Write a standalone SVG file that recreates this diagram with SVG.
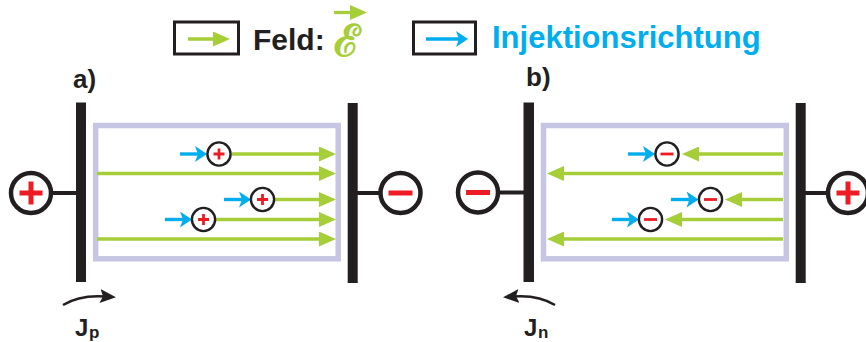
<svg xmlns="http://www.w3.org/2000/svg" width="866" height="342" viewBox="0 0 866 342">
<defs>
<style>
.bar{fill:#231f20}
.box{fill:none;stroke:#c7c6e2;stroke-width:5.5}
.fld{stroke:#a6ce39;stroke-width:3.3;fill:none;marker-end:url(#hg)}
.inj{stroke:#00aeef;stroke-width:3.4;fill:none;marker-end:url(#hb)}
.q{fill:#fff;stroke:#231f20;stroke-width:2.4}
.sg{stroke:#ed1c24;stroke-width:2.8;fill:none}
.T{fill:#fff;stroke:#231f20;stroke-width:4.5}
.tl{stroke:#231f20;stroke-width:4}
.bs{stroke:#ed1c24;stroke-width:5;fill:none}
.lab{font-family:"Liberation Sans",Arial,sans-serif;font-weight:bold;fill:#231f20}
.cur{fill:none;stroke:#231f20;stroke-width:2.5;marker-end:url(#hk)}
.lg{fill:none;stroke:#231f20;stroke-width:3}
</style>
<marker id="hg" markerUnits="userSpaceOnUse" viewBox="0 0 17 15" refX="9" refY="7.5" markerWidth="17" markerHeight="15" orient="auto"><path d="M0,0 L17,7.5 L0,15 Z" fill="#a6ce39"/></marker>
<marker id="hb" markerUnits="userSpaceOnUse" viewBox="0 0 12 16" refX="5" refY="8" markerWidth="12" markerHeight="16" orient="auto"><path d="M0,0 L12,8 L0,16 L3,8 Z" fill="#00aeef"/></marker>
<marker id="hk" markerUnits="userSpaceOnUse" viewBox="0 0 16 14" refX="6" refY="7" markerWidth="16" markerHeight="14" orient="auto"><path d="M0,0 L16,7 L0,14 L3,7 Z" fill="#231f20"/></marker>
</defs>
<rect width="866" height="342" fill="#fff"/>

<g id="legend">
<rect class="lg" x="174.5" y="22" width="64" height="32"/>
<path class="fld" d="M188,39 H222"/>
<text class="lab" x="253" y="50" font-size="30">Feld:</text>
<text x="334" y="56" font-size="44" font-family="DejaVu Serif,serif" font-weight="bold" fill="#a6ce39">ℰ</text>
<path class="fld" d="M334,12.5 H359"/>
<rect class="lg" x="413.5" y="22" width="62" height="32"/>
<path class="inj" d="M426,39 H461"/>
<text class="lab" x="492" y="48" font-size="31" style="fill:#00aeef">Injektionsrichtung</text>
</g>

<g id="panel-a">
<text class="lab" x="73" y="88" font-size="26">a)</text>
<rect class="box" x="95.7" y="125.5" width="242.5" height="133.3"/>
<rect class="bar" x="76" y="102.5" width="10" height="179.5"/>
<rect class="bar" x="347.7" y="103" width="10" height="180"/>
</g>
<g id="term-a-plus">
<line class="tl" x1="50" y1="193" x2="77" y2="193"/>
<circle class="T" cx="31" cy="193" r="20"/>
<path class="bs" d="M19.5,193 H42.5 M31,181.5 V204.5"/>
</g>
<g id="term-a-minus">
<line class="tl" x1="357" y1="193" x2="382" y2="193"/>
<circle class="T" cx="400.5" cy="193" r="20"/>
<path class="bs" d="M388.5,193 H412.5" stroke-width="5.5"/>
</g>

<g id="panel-b">
<text class="lab" x="526" y="86" font-size="26">b)</text>
<rect class="box" x="543.5" y="125.5" width="242.8" height="133.3"/>
<rect class="bar" x="523.5" y="102.5" width="10.5" height="179.5"/>
<rect class="bar" x="795.7" y="103" width="10" height="180"/>
</g>
<g id="term-b-minus">
<line class="tl" x1="496" y1="192.5" x2="524" y2="192.5"/>
<circle class="T" cx="478" cy="192.5" r="20"/>
<path class="bs" d="M466,192.5 H490" stroke-width="5.5"/>
</g>
<g id="term-b-plus">
<line class="tl" x1="805" y1="193" x2="830" y2="193"/>
<circle class="T" cx="848" cy="193" r="20"/>
<path class="bs" d="M836.5,193 H859.5 M848,181.5 V204.5"/>
</g>

<g id="connectors">
<path class="fld" d="M232,154 H328"/>
<path class="fld" d="M97,173.5 H328"/>
<path class="fld" d="M275,199.5 H328"/>
<path class="fld" d="M216,219.5 H328"/>
<path class="fld" d="M97,239 H328"/>
<path class="inj" d="M180,154 H200"/>
<path class="inj" d="M224,199.5 H244"/>
<path class="inj" d="M165,219.5 H185"/>

<path class="fld" d="M783,154 H690"/>
<path class="fld" d="M783,173.5 H555"/>
<path class="fld" d="M783,199.5 H733"/>
<path class="fld" d="M783,219.5 H673"/>
<path class="fld" d="M783,239 H555"/>
<path class="inj" d="M628,154 H648"/>
<path class="inj" d="M671,199.5 H691.5"/>
<path class="inj" d="M612,219.5 H632"/>

<path class="cur" d="M63,305 Q80,294.5 106,296.5"/>
<path class="cur" d="M555,305 Q538,294.5 513,296.5"/>
</g>

<g id="holes">
<g id="h1"><circle class="q" cx="219" cy="154" r="11.6"/><path class="sg" d="M213.5,154 H224.5 M219,148.5 V159.5"/></g>
<g id="h2"><circle class="q" cx="262.5" cy="199.5" r="11.6"/><path class="sg" d="M257,199.5 H268 M262.5,194 V205"/></g>
<g id="h3"><circle class="q" cx="203.5" cy="219.5" r="11.6"/><path class="sg" d="M198,219.5 H209 M203.5,214 V225"/></g>
</g>
<g id="electrons">
<g id="e1"><circle class="q" cx="667" cy="154" r="11.6"/><path class="sg" d="M660.5,154 H673.5" stroke-width="3"/></g>
<g id="e2"><circle class="q" cx="710.5" cy="199.5" r="11.6"/><path class="sg" d="M704,199.5 H717" stroke-width="3"/></g>
<g id="e3"><circle class="q" cx="650.5" cy="219.5" r="11.6"/><path class="sg" d="M644,219.5 H657" stroke-width="3"/></g>
</g>

<g id="label-jp">
<text class="lab" x="75" y="336" font-size="24">J</text>
<text class="lab" x="89" y="338" font-size="17">p</text>
</g>
<g id="label-jn">
<text class="lab" x="524" y="336" font-size="24">J</text>
<text class="lab" x="538" y="338" font-size="17">n</text>
</g>
</svg>
